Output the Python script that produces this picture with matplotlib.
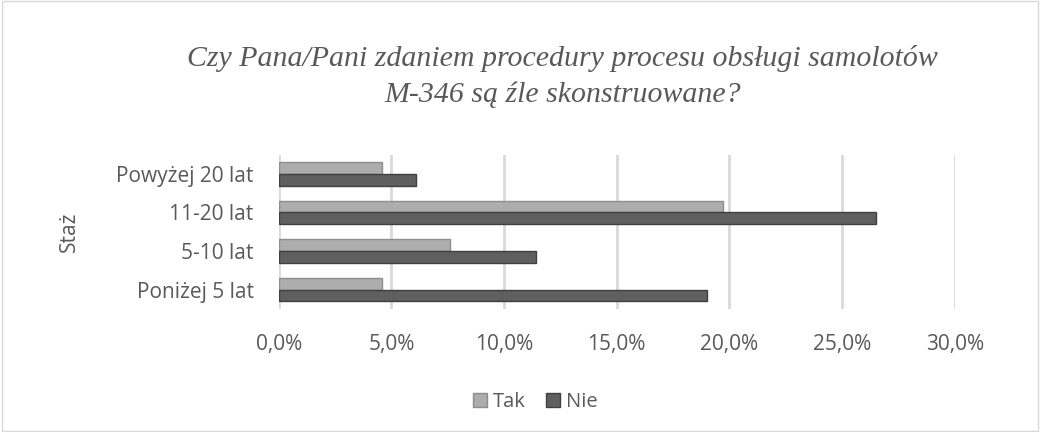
import numpy as np
import matplotlib.pyplot as plt
from matplotlib.patches import Rectangle

# Survey answers by seniority (share of respondents, %)
categories = ["Poniżej 5 lat", "5-10 lat", "11-20 lat", "Powyżej 20 lat"]
tak = [4.6, 7.6, 19.7, 4.6]
nie = [19.0, 11.4, 26.5, 6.1]
xticks = [0, 5, 10, 15, 20, 25, 30]

plt.rcParams['font.family'] = ['Open Sans', 'DejaVu Sans']

fig = plt.figure(figsize=(10.4, 4.32), dpi=100)
fig.patches.append(Rectangle((0.002, 0.003), 0.996, 0.994, transform=fig.transFigure,
                             fill=False, edgecolor="#d9d9d9", linewidth=1))
ax = fig.add_axes([0.268, 0.285, 0.65, 0.357])

y = np.arange(len(categories))
h = 0.3
ax.barh(y + h / 2, tak, height=h, color="#adadad", edgecolor="#8e8e8e", linewidth=1.0,
        label="Tak", zorder=3)
ax.barh(y - h / 2, nie, height=h, color="#5f5f5f", edgecolor="#404040", linewidth=1.0,
        label="Nie", zorder=3)

ax.set_xlim(0, 30)
ax.set_ylim(-0.5, len(categories) - 0.5)
ax.set_xticks(xticks)
ax.set_xticklabels([f"{v:.1f}%".replace(".", ",") for v in xticks])
ax.set_yticks(y)
ax.set_yticklabels(categories)
ax.tick_params(length=0, labelsize=15, colors="#595959")
ax.tick_params(axis="y", pad=18)
ax.tick_params(axis="x", pad=18)
ax.grid(axis="x", color="#d9d9d9", linewidth=2, zorder=0)
for s in ax.spines.values():
    s.set_visible(False)

ax.set_ylabel("Staż", fontsize=15, color="#595959", labelpad=26)

fig.text(0.541, 0.823, "Czy Pana/Pani zdaniem procedury procesu obsługi samolotów\nM-346 są źle skonstruowane?",
         ha="center", va="center", fontsize=21.5, style="italic", family="Liberation Serif",
         color="#595959", linespacing=1.5)

fig.legend(loc="center", bbox_to_anchor=(0.515, 0.07), ncol=2, frameon=False, fontsize=14.5,
           handlelength=0.7, handleheight=0.7, handletextpad=0.3, columnspacing=1.0,
           labelcolor="#595959")

fig.savefig("out.png")
